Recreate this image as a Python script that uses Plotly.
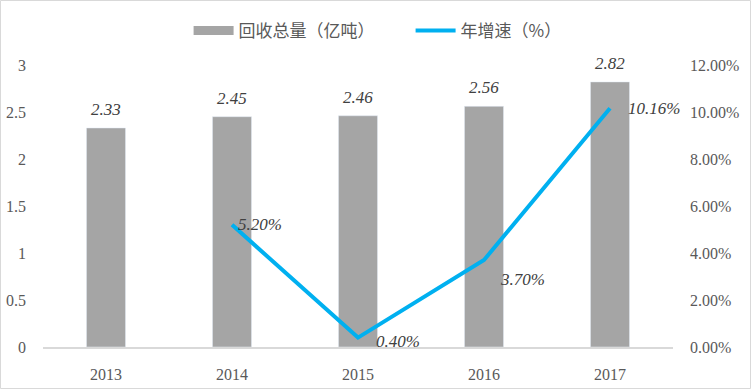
import plotly.graph_objects as go

years = ["2013", "2014", "2015", "2016", "2017"]
volume = [2.33, 2.45, 2.46, 2.56, 2.82]
growth = [None, 5.20, 0.40, 3.70, 10.16]
volume_labels = ["2.33", "2.45", "2.46", "2.56", "2.82"]
growth_labels = ["", "5.20%", "0.40%", "3.70%", "10.16%"]

W, H = 752, 390
ml, mr, mt, mb = 43, 79, 65, 43

fig = go.Figure()
fig.add_trace(go.Bar(x=years, y=volume, name="回收总量（亿吨）", marker_color="#A5A5A5",
                     width=0.31, yaxis="y", showlegend=False))
# legend proxy for bars (wide grey stroke, as in reference)
fig.add_trace(go.Scatter(x=[None], y=[None], name="回收总量（亿吨）", mode="lines",
                         line=dict(color="#A5A5A5", width=9), yaxis="y"))
fig.add_trace(go.Scatter(x=years, y=growth, name="年增速（%）", mode="lines",
                         line=dict(color="#00B0F0", width=4), yaxis="y2", connectgaps=False))

serif = "Liberation Serif, Times New Roman, serif"
for i, (yv, t) in enumerate(zip(volume, volume_labels)):
    fig.add_annotation(x=i, y=yv, text=t, showarrow=False, yref="y", xref="x",
                       yanchor="bottom", yshift=7,
                       font=dict(family=serif, size=17, color="#404040", style="italic"))

shifts = {"5.20%": (4, 0), "0.40%": (16, -4), "3.70%": (14, -19), "10.16%": (16, 0)}
for i, (yv, t) in enumerate(zip(growth, growth_labels)):
    if yv is None:
        continue
    xs, ys = shifts[t]
    fig.add_annotation(x=i, y=yv, text=t, showarrow=False, yref="y2", xref="x",
                       xanchor="left", yanchor="middle", xshift=xs, yshift=ys,
                       font=dict(family=serif, size=17, color="#404040", style="italic"))

pw = W - ml - mr
ph = H - mt - mb
fig.add_shape(type="rect", xref="paper", yref="paper",
              x0=-(ml - 0.5) / pw, x1=1 + (mr - 1.5) / pw,
              y0=-(mb - 1.5) / ph, y1=1 + (mt - 0.5) / ph,
              line=dict(color="#D9D9D9", width=1), fillcolor="rgba(0,0,0,0)", layer="below")

fig.update_layout(
    width=W, height=H,
    margin=dict(l=ml, r=mr, t=mt, b=mb, autoexpand=False),
    plot_bgcolor="white", paper_bgcolor="white",
    showlegend=True,
    legend=dict(orientation="h", xref="container", yref="container",
                x=0.546, xanchor="center", y=1 - 31 / H, yanchor="middle",
                font=dict(family="Noto Sans CJK SC, sans-serif", size=17, color="#595959"),
                itemwidth=40, traceorder="normal", entrywidth=167),
    xaxis=dict(type="category", range=[-0.5, 4.5], showgrid=False, showline=True,
               linecolor="#D9D9D9", linewidth=1.5,
               tickfont=dict(family=serif, size=16, color="#595959"), ticks="",
               ticklabelstandoff=12),
    yaxis=dict(range=[0, 3], dtick=0.5, showgrid=False, zeroline=False, showline=False,
               tickfont=dict(family=serif, size=16, color="#595959"), ticklabelstandoff=16),
    yaxis2=dict(range=[0, 12], dtick=2, overlaying="y", side="right", showgrid=False,
                zeroline=False, showline=False, ticksuffix="%", tickformat=".2f",
                tickfont=dict(family=serif, size=16, color="#595959"), ticklabelstandoff=16),
)

fig.write_html("out.html", config={"displayModeBar": False},
               post_script="document.body.style.margin='0px';")
